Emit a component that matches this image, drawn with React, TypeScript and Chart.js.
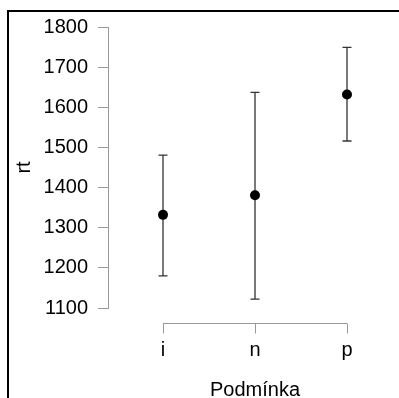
import React, { useEffect, useRef } from "react";
import { Chart, registerables } from "chart.js";

Chart.register(...registerables);

const categories = ["i", "n", "p"];
const means = [1332, 1381, 1632];
const lowerCI = [1180, 1122, 1516];
const upperCI = [1481, 1637, 1749];
const yTickValues = [1100, 1200, 1300, 1400, 1500, 1600, 1700, 1800];
const yTitle = "rt";
const xTitle = "Podmínka";

const FONT = "'Liberation Sans', Arial, sans-serif";

export default function App() {
  const canvasRef = useRef<HTMLCanvasElement | null>(null);

  useEffect(() => {
    const canvas = canvasRef.current;
    if (!canvas) return;

    const errorBars = {
      id: "errorBars",
      beforeDatasetsDraw(chart: any) {
        const { ctx, scales } = chart;
        const xs = scales.x;
        const ys = scales.y;
        ctx.save();
        ctx.strokeStyle = "#333";
        ctx.lineWidth = 1.3;
        categories.forEach((_, i) => {
          const px = xs.getPixelForValue(i + 1);
          const yl = ys.getPixelForValue(lowerCI[i]);
          const yu = ys.getPixelForValue(upperCI[i]);
          const cap = 4.5;
          ctx.beginPath();
          ctx.moveTo(px, yu);
          ctx.lineTo(px, yl);
          ctx.moveTo(px - cap, yu);
          ctx.lineTo(px + cap, yu);
          ctx.moveTo(px - cap, yl);
          ctx.lineTo(px + cap, yl);
          ctx.stroke();
        });
        ctx.restore();
      },
    };

    const detachedXAxis = {
      id: "detachedXAxis",
      afterDraw(chart: any) {
        const { ctx, scales, chartArea } = chart;
        const xs = scales.x;
        const yAxis = Math.round(chartArea.bottom + 15) + 0.5;
        const x0 = xs.getPixelForValue(1);
        const x1 = xs.getPixelForValue(categories.length);
        ctx.save();
        ctx.strokeStyle = "#999";
        ctx.lineWidth = 1;
        ctx.beginPath();
        ctx.moveTo(x0, yAxis);
        ctx.lineTo(x1, yAxis);
        categories.forEach((_, i) => {
          const px = Math.round(xs.getPixelForValue(i + 1)) + 0.5;
          ctx.moveTo(px, yAxis);
          ctx.lineTo(px, yAxis + 10);
        });
        ctx.stroke();
        // axis title centred under the category range
        ctx.fillStyle = "#000";
        ctx.font = `20px ${FONT}`;
        ctx.textAlign = "center";
        ctx.textBaseline = "alphabetic";
        ctx.fillText(xTitle, (x0 + x1) / 2, chartArea.bottom + 88);
        ctx.restore();
      },
    };

    const chart = new Chart(canvas, {
      type: "scatter",
      data: {
        datasets: [
          {
            label: yTitle,
            data: categories.map((_, i) => ({ x: i + 1, y: means[i] })),
            pointRadius: 5,
            pointHoverRadius: 5,
            backgroundColor: "#000",
            borderColor: "#000",
            borderWidth: 0,
          },
        ],
      },
      options: {
        animation: false,
        responsive: false,
        devicePixelRatio: 1,
        layout: { padding: { top: 27, right: 39, bottom: 0, left: 0 } },
        plugins: {
          legend: { display: false },
          tooltip: { enabled: false },
        },
        scales: {
          x: {
            type: "linear",
            min: 0.4022,
            max: 3.1413,
            afterBuildTicks: (s: any) => {
              s.ticks = categories.map((_, i) => ({ value: i + 1 }));
            },
            afterFit: (s: any) => {
              s.height = 90;
            },
            grid: { display: false, drawTicks: false },
            border: { display: false },
            ticks: {
              autoSkip: false,
              maxRotation: 0,
              padding: 30,
              color: "#000",
              font: { family: FONT, size: 20 },
              callback: (v: any) => categories[Math.round(Number(v)) - 1] ?? "",
            },
            title: { display: false, text: xTitle },
          },
          y: {
            type: "linear",
            min: 1100,
            max: 1800,
            afterBuildTicks: (s: any) => {
              s.ticks = yTickValues.map((v) => ({ value: v }));
            },
            afterFit: (s: any) => {
              s.width = 108;
            },
            grid: {
              display: true,
              drawOnChartArea: false,
              drawTicks: true,
              tickLength: 10,
              color: "#999",
              lineWidth: 1,
            },
            border: { display: true, color: "#999", width: 1 },
            ticks: {
              padding: 10,
              color: "#000",
              font: { family: FONT, size: 20 },
              callback: (v: any) => String(v),
            },
            title: {
              display: true,
              text: yTitle,
              color: "#000",
              font: { family: FONT, size: 20 },
              padding: { top: 12, bottom: 0 },
            },
          },
        },
      },
      plugins: [errorBars, detachedXAxis],
    });

    return () => chart.destroy();
  }, []);

  return (
    <div style={{ position: "absolute", left: 0, top: 0, width: 399, height: 398, background: "#fff" }}>
      <canvas ref={canvasRef} width={399} height={398} style={{ position: "absolute", left: 0, top: 0, width: 399, height: 398 }} />
      <div
        style={{
          position: "absolute",
          left: 7,
          top: 10,
          width: 392,
          height: 388,
          borderTop: "2px solid #000",
          borderLeft: "2px solid #000",
          boxSizing: "border-box",
          pointerEvents: "none",
        }}
      />
    </div>
  );
}
